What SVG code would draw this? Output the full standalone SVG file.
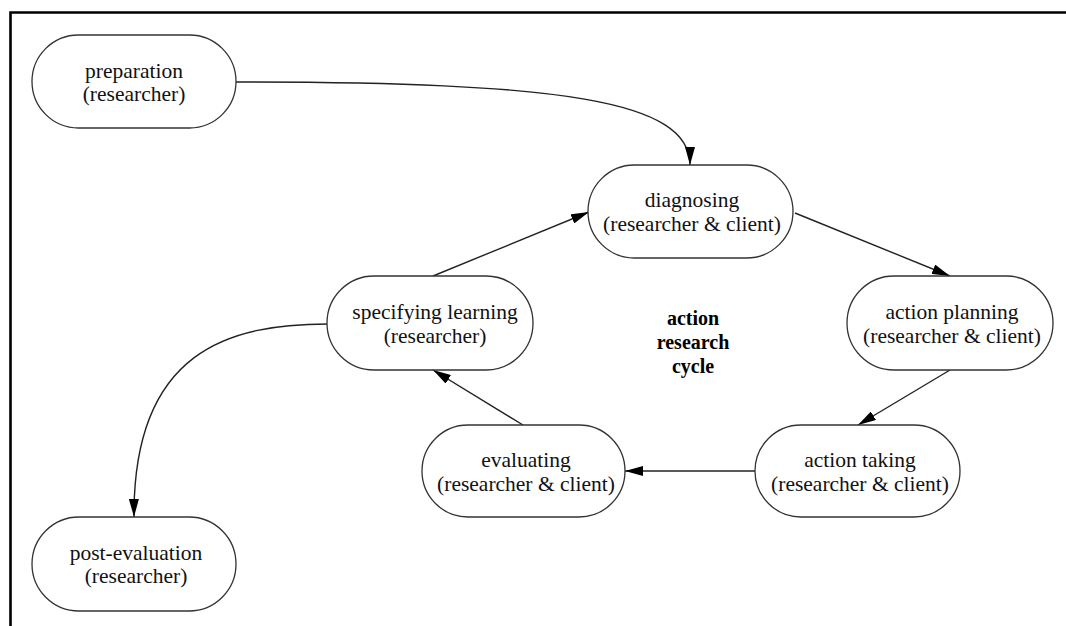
<svg xmlns="http://www.w3.org/2000/svg" width="1066" height="626" viewBox="0 0 1066 626">
  <defs>
    <marker id="arrow" viewBox="0 0 18 10" refX="18" refY="5" markerWidth="18" markerHeight="10" markerUnits="userSpaceOnUse" orient="auto">
      <path d="M0,0 L18,5 L0,10 z" fill="#000"/>
    </marker>
    <style>
      .frame { fill: none; stroke: #000; stroke-width: 2.6; }
      .node rect { fill: #fff; stroke: #333; stroke-width: 1.3; }
      .node text { font-family: "Liberation Serif", "Times New Roman", serif; font-size: 21.5px; fill: #111; text-anchor: middle; }
      .edge { fill: none; stroke: #222; stroke-width: 1.4; marker-end: url(#arrow); }
      .title { font-family: "Liberation Serif", "Times New Roman", serif; font-size: 20px; font-weight: bold; fill: #000; text-anchor: middle; }
    </style>
  </defs>

  <rect width="1066" height="626" fill="#fff"/>
  <!-- page frame: top and left rules -->
  <path class="frame" d="M10.5,626 L10.5,12.5 L1066,12.5"/>

  <!-- connectors -->
  <g id="connectors">
    <path class="edge" d="M236,82 C560,82 690,100 690,165"/>
    <path class="edge" d="M795,213 L950,276"/>
    <path class="edge" d="M950,370 L858,425"/>
    <path class="edge" d="M755,471 L625,471"/>
    <path class="edge" d="M523,425 L433,370"/>
    <path class="edge" d="M433,276 L589,212"/>
    <path class="edge" d="M328,324 C230,324 133,350 134,517"/>
  </g>

  <!-- nodes -->
  <g id="preparation" class="node">
    <rect x="32" y="35" width="204" height="93" rx="46.5"/>
    <text x="134" y="78">preparation</text>
    <text x="134" y="101">(researcher)</text>
  </g>

  <g id="diagnosing" class="node">
    <rect x="588" y="165" width="205" height="93" rx="46.5"/>
    <text x="692" y="207">diagnosing</text>
    <text x="692" y="231">(researcher &amp; client)</text>
  </g>

  <g id="action-planning" class="node">
    <rect x="847" y="276" width="206" height="94" rx="47"/>
    <text x="952" y="319">action planning</text>
    <text x="952" y="343">(researcher &amp; client)</text>
  </g>

  <g id="action-taking" class="node">
    <rect x="755" y="425" width="205" height="92" rx="46"/>
    <text x="860" y="467">action taking</text>
    <text x="860" y="491">(researcher &amp; client)</text>
  </g>

  <g id="evaluating" class="node">
    <rect x="422" y="425" width="203" height="92" rx="46"/>
    <text x="526" y="467">evaluating</text>
    <text x="526" y="491">(researcher &amp; client)</text>
  </g>

  <g id="specifying-learning" class="node">
    <rect x="327" y="276" width="206" height="94" rx="47"/>
    <text x="435" y="319">specifying learning</text>
    <text x="435" y="343">(researcher)</text>
  </g>

  <g id="post-evaluation" class="node">
    <rect x="32" y="517" width="204" height="94" rx="47"/>
    <text x="136" y="560">post-evaluation</text>
    <text x="136" y="583">(researcher)</text>
  </g>

  <!-- central caption -->
  <g id="cycle-label">
    <text class="title" x="693" y="325">action</text>
    <text class="title" x="693" y="349">research</text>
    <text class="title" x="693" y="373">cycle</text>
  </g>
</svg>
